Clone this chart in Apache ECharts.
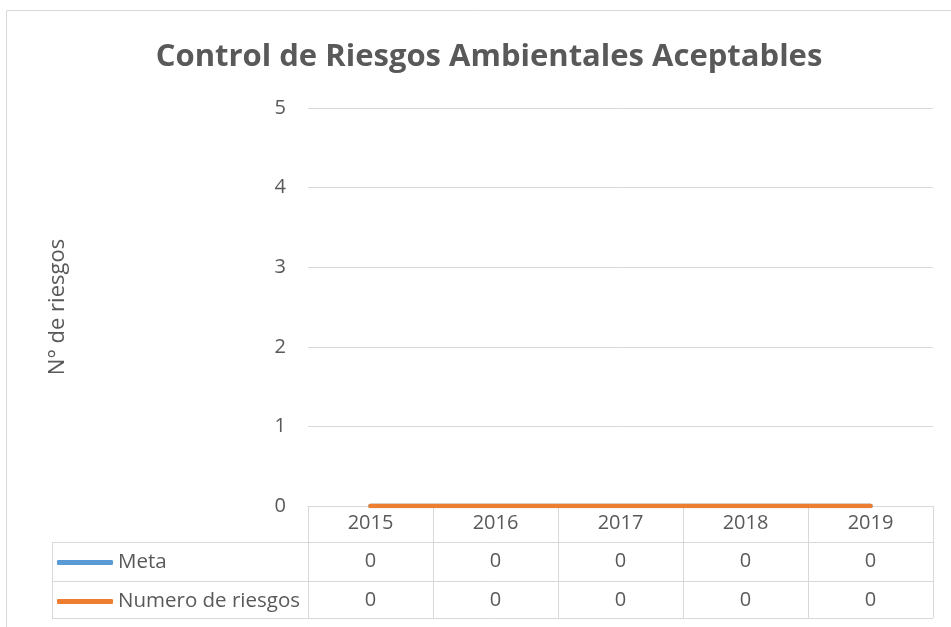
<!DOCTYPE html>
<html>
<head>
<meta charset="utf-8">
<script src="https://cdn.jsdelivr.net/npm/echarts@6/dist/echarts.min.js"></script>
<style>html,body{margin:0;padding:0;background:#fff}#c{width:951px;height:627px}</style>
</head>
<body>
<div id="c"></div>
<script>
const titleText = 'Control de Riesgos Ambientales Aceptables';
const yAxisTitle = 'N° de riesgos';
const categories = ['2015', '2016', '2017', '2018', '2019'];
const seriesNames = ['Meta', 'Numero de riesgos'];
const metaValues = [0, 0, 0, 0, 0];
const numeroValues = [0, 0, 0, 0, 0];

const FONT = 'Open Sans';
const GRAY = '#595959';
const LINE = '#d9d9d9';

const chart = echarts.init(document.getElementById('c'), null, {renderer: 'canvas'});

function tableAxis(values, offset) {
  return {
    type: 'category', gridIndex: 0, position: 'bottom', offset: offset,
    data: values.map(String), boundaryGap: true,
    axisLine: {show: false}, axisTick: {show: false}, splitLine: {show: false},
    axisLabel: {interval: 0, margin: 8, color: GRAY, fontFamily: FONT, fontSize: 20}
  };
}

function legendFor(name, top) {
  return {
    data: [name], left: 52, top: top, orient: 'horizontal', icon: 'roundRect',
    itemWidth: 56, itemHeight: 5, itemGap: 0,
    textStyle: {fontFamily: FONT, fontSize: 20.5, color: GRAY}
  };
}

const option = {
  backgroundColor: '#fff',
  animation: false,
  title: {
    text: titleText, left: 484, top: 37, textAlign: 'center',
    textStyle: {fontFamily: FONT, fontWeight: 'bold', fontSize: 31, color: GRAY}
  },
  legend: [legendFor(seriesNames[0], 547), legendFor(seriesNames[1], 586)],
  grid: {left: 308, right: 18, top: 108, bottom: 121, containLabel: false},
  xAxis: [
    {
      type: 'category', data: categories, boundaryGap: true,
      axisLine: {show: true, lineStyle: {color: LINE, width: 1}},
      axisTick: {show: true, interval: 0, length: 112, lineStyle: {color: LINE, width: 1}},
      axisLabel: {interval: 0, margin: 7, color: GRAY, fontFamily: FONT, fontSize: 20},
      splitLine: {show: false}
    },
    tableAxis(metaValues, 37),
    tableAxis(numeroValues, 76)
  ],
  yAxis: {
    type: 'value', min: 0, max: 5, interval: 1,
    name: yAxisTitle, nameLocation: 'middle', nameRotate: 90, nameGap: 239,
    nameTextStyle: {fontFamily: FONT, fontSize: 22, color: GRAY},
    axisLine: {show: false}, axisTick: {show: false},
    axisLabel: {margin: 22, color: GRAY, fontFamily: FONT, fontSize: 20},
    splitLine: {show: true, lineStyle: {color: LINE, width: 1}}
  },
  series: [
    {name: seriesNames[0], type: 'line', data: metaValues, symbol: 'none',
     color: '#5B9BD5', lineStyle: {width: 4.5, cap: 'round', color: '#5B9BD5'}},
    {name: seriesNames[1], type: 'line', data: numeroValues, symbol: 'none',
     color: '#ED7D31', lineStyle: {width: 4.5, cap: 'round', color: '#ED7D31'}}
  ],
  graphic: [
    {type: 'rect', shape: {x: 6.5, y: 10.5, width: 960, height: 640}, silent: true,
     style: {fill: null, stroke: LINE, lineWidth: 1}},
    {type: 'line', shape: {x1: 52, y1: 542.5, x2: 933, y2: 542.5}, style: {stroke: LINE, lineWidth: 1}, silent: true},
    {type: 'line', shape: {x1: 52, y1: 581.5, x2: 933, y2: 581.5}, style: {stroke: LINE, lineWidth: 1}, silent: true},
    {type: 'line', shape: {x1: 52, y1: 618.5, x2: 933, y2: 618.5}, style: {stroke: LINE, lineWidth: 1}, silent: true},
    {type: 'line', shape: {x1: 52.5, y1: 542, x2: 52.5, y2: 619}, style: {stroke: LINE, lineWidth: 1}, silent: true}
  ]
};
chart.setOption(option);
</script>
</body>
</html>
